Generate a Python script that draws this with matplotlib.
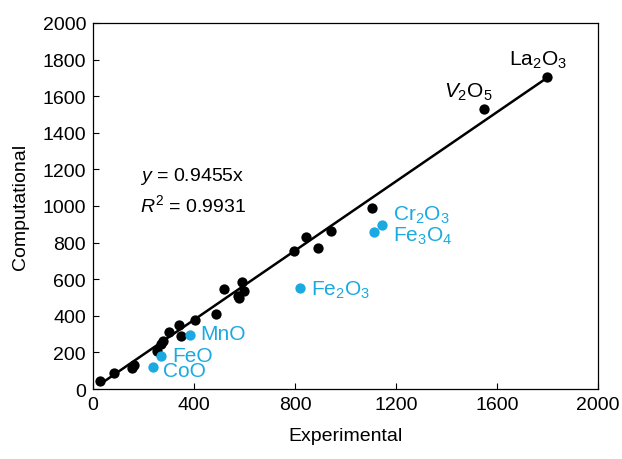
import numpy as np
import matplotlib
matplotlib.use('Agg')
import matplotlib.pyplot as plt

plt.rcParams['font.family'] = ['Liberation Sans', 'DejaVu Sans']
plt.rcParams['mathtext.fontset'] = 'custom'
plt.rcParams['mathtext.rm'] = 'Liberation Sans'
plt.rcParams['mathtext.it'] = 'Liberation Sans:italic'

# black points (experimental, computational)
exp_black = [28, 83, 154, 162, 253, 269, 277, 301, 341, 348, 404, 487, 519,
             578, 574, 590, 598, 796, 843, 891, 943, 1105, 1548, 1798]
comp_black = [44, 87, 115, 131, 208, 246, 262, 311, 350, 290, 377, 410, 546,
              497, 508, 585, 535, 754, 830, 770, 863, 989, 1530, 1705]

# highlighted oxides
blue_names = ['CoO', 'FeO', 'MnO', 'Fe$_2$O$_3$', 'Cr$_2$O$_3$', 'Fe$_3$O$_4$']
exp_blue = [238, 269, 384, 820, 1145, 1113]
comp_blue = [120, 180, 295, 552, 896, 858]

slope = 0.9455
r2 = 0.9931

blue = '#1BA9E1'
fs = 14
fs_lab = 15

fig = plt.figure(figsize=(6.22, 4.6), dpi=100)
ax = fig.add_axes([0.1495, 0.152, 0.8119, 0.796])

xfit = np.array([min(exp_black), max(exp_black)])
ax.plot(xfit, slope * xfit, color='black', lw=1.8, zorder=1)
ax.scatter(exp_black, comp_black, s=55, color='black', zorder=2, linewidths=0)
ax.scatter(exp_blue, comp_blue, s=55, color=blue, zorder=2, linewidths=0)

# labels
lab_pos = {'CoO': (277, 104), 'FeO': (313, 186), 'MnO': (424, 306),
           'Fe$_2$O$_3$': (863, 546), 'Cr$_2$O$_3$': (1188, 956),
           'Fe$_3$O$_4$': (1188, 842)}
for name in blue_names:
    x, y = lab_pos[name]
    ax.text(x, y, name, color=blue, fontsize=fs_lab, ha='left', va='center')

ax.text(1762, 1803, 'La$_2$O$_3$', fontsize=fs_lab, ha='center', va='center')
ax.text(1485, 1628, '$V_2$O$_5$', fontsize=fs_lab, ha='center', va='center')

ax.text(186, 1164, '$y$ = %.4fx' % slope, fontsize=fs, ha='left', va='center')
ax.text(186, 1011, '$R^2$ = %.4f' % r2, fontsize=fs, ha='left', va='center')

ax.set_xlim(0, 2000)
ax.set_ylim(0, 2000)
ax.set_xticks(np.arange(0, 2001, 400))
ax.set_yticks(np.arange(0, 2001, 200))
ax.tick_params(direction='in', length=4, labelsize=fs, width=0.8, pad=5)
for sp in ax.spines.values():
    sp.set_linewidth(0.9)

ax.set_xlabel('Experimental', fontsize=fs, labelpad=10)
ax.set_ylabel('Computational', fontsize=fs, labelpad=10)

fig.savefig('out.png', dpi=100)
